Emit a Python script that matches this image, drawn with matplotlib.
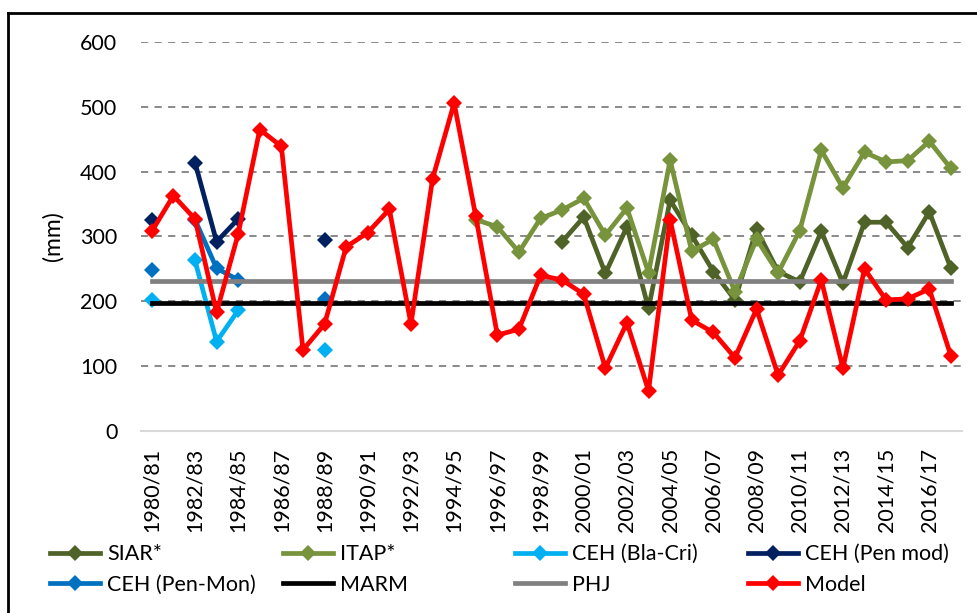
import numpy as np
import matplotlib
matplotlib.use("Agg")
import matplotlib.pyplot as plt
from matplotlib.lines import Line2D

plt.rcParams['font.family'] = ['Lato', 'DejaVu Sans']

years = [f"{y}/{str(y + 1)[-2:]}" for y in range(1980, 2018)]
nan = np.nan

siar = [nan]*19 + [292, 330, 243, 315, 189, 356, 302, 246, 202, 311, 246, 230, 308, 228, 322, 322, 283, 338, 251]
itap = [nan]*15 + [326, 315, 276, 328, 341, 359, 302, 344, 244, 418, 277, 296, 215, 296, 244, 309, 433, 375, 430, 415, 417, 447, 405]
ceh_bla = [202, nan, 263, 138, 186, nan, nan, nan, 125] + [nan]*29
ceh_penmod = [326, nan, 414, 292, 327, nan, nan, nan, 294] + [nan]*29
ceh_penmon = [248, nan, 326, 251, 233, nan, nan, nan, 203] + [nan]*29
marm = [197.5]*38
phj = [232]*38
model = [308, 363, 327, 183, 304, 465, 439, 125, 165, 284, 306, 342, 165, 389, 506, 331,
         148, 157, 240, 233, 211, 97, 167, 62, 326, 171, 152, 113, 188, 86, 139, 233, 97,
         250, 202, 204, 219, 116]

series = [
    ("SIAR*", siar, "#4F6228", True),
    ("ITAP*", itap, "#77933C", True),
    ("CEH (Bla-Cri)", ceh_bla, "#00B0F0", True),
    ("CEH (Pen mod)", ceh_penmod, "#002060", True),
    ("CEH (Pen-Mon)", ceh_penmon, "#0070C0", True),
    ("MARM", marm, "#000000", False),
    ("PHJ", phj, "#808080", False),
    ("Model", model, "#FF0000", True),
]

FS = 15.5

fig = plt.figure(figsize=(9.77, 6.13), dpi=100)
ax = fig.add_axes([141/977, 1 - 431/613, (961.7 - 141)/977, (431 - 42)/613])

x = np.arange(len(years))
handles = {}
for name, vals, col, mk in series:
    h, = ax.plot(x, vals, color=col, lw=3.4, marker='D' if mk else None,
                 markersize=8.5, markeredgewidth=0, label=name, solid_joinstyle='round')
    handles[name] = h

ax.set_xlim(-0.5, len(years) - 0.5)
ax.set_ylim(0, 600)
ax.set_yticks(range(0, 601, 100))
ax.set_xticks(x[::2])
ax.set_xticklabels(years[::2], rotation=90)
ax.tick_params(axis='both', length=0, labelsize=FS, colors='black')
ax.tick_params(axis='y', pad=17)
ax.tick_params(axis='x', pad=12)

for v in range(100, 601, 100):
    ax.axhline(v, color='#808080', lw=1.3, ls=(0, (4, 3.5)), zorder=0)
for s in ['top', 'right', 'left']:
    ax.spines[s].set_visible(False)
ax.spines['bottom'].set_color('#D9D9D9')
ax.spines['bottom'].set_linewidth(1.5)

ax.set_ylabel("(mm)", fontsize=16.5, labelpad=12)

columns = [["SIAR*", "CEH (Pen-Mon)"], ["ITAP*", "MARM"],
           ["CEH (Bla-Cri)", "PHJ"], ["CEH (Pen mod)", "Model"]]
col_x = [50, 283, 515, 748]
for cx, names in zip(col_x, columns):
    leg = fig.legend([handles[n] for n in names], names, ncol=1, loc='center left',
                     bbox_to_anchor=(cx/977, 1 - 569.5/613), frameon=False, fontsize=FS,
                     handlelength=2.3, handletextpad=0.35, labelspacing=0.5,
                     borderpad=0, borderaxespad=0)

fig.add_artist(Line2D([8/977, 8/977], [0, 1 - 13/613], color='black', lw=2))
fig.add_artist(Line2D([8/977, 1], [1 - 13/613, 1 - 13/613], color='black', lw=2))

fig.savefig("out.png", dpi=100)
